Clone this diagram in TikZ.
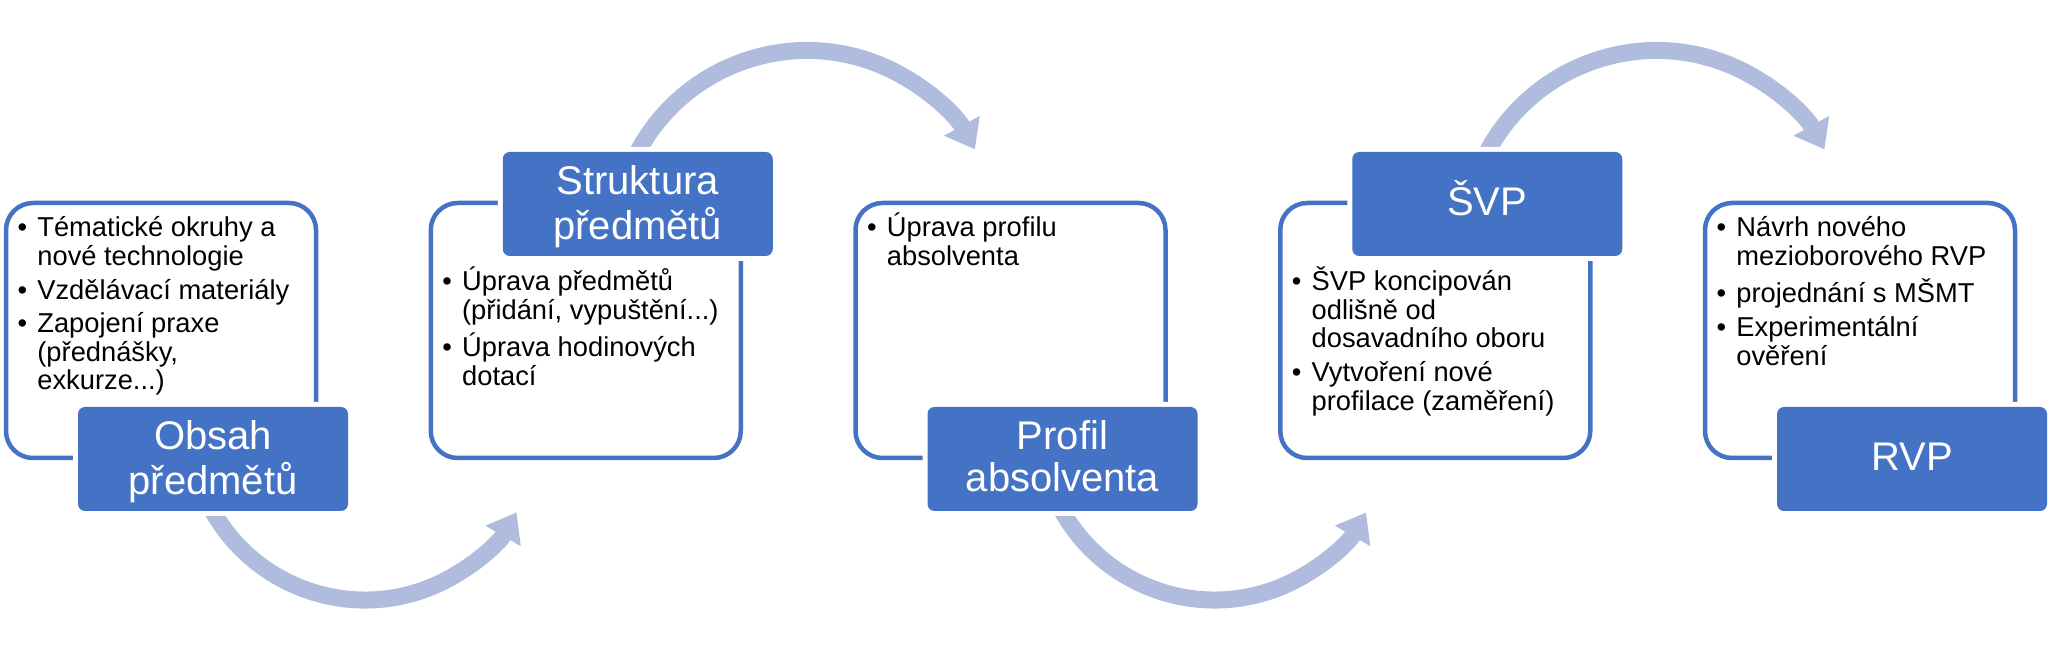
\documentclass[tikz,border=0pt]{standalone}
\usepackage{fontspec}
\setmainfont{Liberation Sans}
\usetikzlibrary{arrows.meta}
\definecolor{tblue}{RGB}{68,114,196}
\definecolor{flowc}{RGB}{176,188,222}
\newcommand\bul{\makebox[15pt][c]{•}}
\newcommand\ind{\hspace*{15pt}}
\begin{document}
\begin{tikzpicture}[x=0.5pt,y=0.5pt,
  tbox/.style={draw=tblue, line width=2.25pt, fill=white, rounded corners=13.5pt,
    minimum width=155pt, minimum height=127.5pt, anchor=north west, inner sep=0pt, outer sep=0pt},
  title/.style={fill=tblue, rounded corners=3.5pt, minimum width=135pt, minimum height=52pt,
    anchor=north west, inner sep=0pt, outer sep=0pt, preaction={draw=white, line width=5pt}},
  ttext/.style={text=white, font=\fontsize{20}{20.75}\selectfont, inner sep=0pt, anchor=base},
  btext/.style={font=\fontsize{13.65}{14.15}\selectfont, inner sep=0pt, anchor=base west},
  flow/.style={draw=flowc, line width=8.5pt, -{Triangle[length=13.5pt,width=19.5pt]}}]
\useasboundingbox (0,0) rectangle (2052,-662);
\fill[white] (0,0) rectangle (2052,-662);

% connectors (curved arrows)
\coordinate (c1) at (365,-425);
\coordinate (c2) at (807,-242.5);
\coordinate (c3) at (1214.5,-425);
\coordinate (c4) at (1656.5,-242.5);
\draw[flow] ([shift={(205:87.5pt)}]c1) arc[start angle=205, end angle=330, radius=87.5pt];
\draw[flow] ([shift={(155:96pt)}]c2) arc[start angle=155, end angle=29, radius=96pt];
\draw[flow] ([shift={(205:87.5pt)}]c3) arc[start angle=205, end angle=330, radius=87.5pt];
\draw[flow] ([shift={(155:96pt)}]c4) arc[start angle=155, end angle=29, radius=96pt];

% text boxes
\node[tbox] (t1) at (6,-203) {};
\node[tbox] (t2) at (430.75,-203) {};
\node[tbox] (t3) at (855.5,-203) {};
\node[tbox] (t4) at (1280.25,-203) {};
\node[tbox] (t5) at (1705,-203) {};

% title boxes
\node[title] (h1) at (78,-407) {};
\node[title] (h2) at (502.75,-152) {};
\node[title] (h3) at (927.5,-407) {};
\node[title] (h4) at (1352.25,-152) {};
\node[title] (h5) at (1777,-407) {};

\node[ttext] (h1t) at ([yshift=4.5pt]h1.center) {\begin{tabular}[t]{@{}c@{}}Obsah\\předmětů\end{tabular}};
\node[ttext] (h2t) at ([yshift=4.5pt]h2.center) {\begin{tabular}[t]{@{}c@{}}Struktura\\předmětů\end{tabular}};
\node[ttext] (h3t) at ([yshift=4.5pt]h3.center) {\begin{tabular}[t]{@{}c@{}}Profil\\absolventa\end{tabular}};
\node[ttext] (h4t) at ([yshift=-5.75pt]h4.center) {ŠVP};
\node[ttext] (h5t) at ([yshift=-5.75pt]h5.center) {RVP};

% bullet texts
\node[btext] (b1) at (7,-237) {\begin{tabular}[t]{@{}l@{}}
\bul Tématické okruhy a\\ \ind nové technologie\\[2.5pt]
\bul Vzdělávací materiály\\[2.5pt]
\bul Zapojení praxe\\ \ind (přednášky,\\ \ind exkurze...)
\end{tabular}};
\node[btext] (b2) at (431.75,-291) {\begin{tabular}[t]{@{}l@{}}
\bul Úprava předmětů\\ \ind (přidání, vypuštění...)\\[2.5pt]
\bul Úprava hodinových\\ \ind dotací
\end{tabular}};
\node[btext] (b3) at (856.5,-237) {\begin{tabular}[t]{@{}l@{}}
\bul Úprava profilu\\ \ind absolventa
\end{tabular}};
\node[btext] (b4) at (1281.25,-291) {\begin{tabular}[t]{@{}l@{}}
\bul ŠVP koncipován\\ \ind odlišně od\\ \ind dosavadního oboru\\[2.5pt]
\bul Vytvoření nové\\ \ind profilace (zaměření)
\end{tabular}};
\node[btext] (b5) at (1706,-237) {\begin{tabular}[t]{@{}l@{}}
\bul Návrh nového\\ \ind mezioborového RVP\\[2.5pt]
\bul projednání s MŠMT\\[2.5pt]
\bul Experimentální\\ \ind ověření
\end{tabular}};
\end{tikzpicture}
\end{document}
